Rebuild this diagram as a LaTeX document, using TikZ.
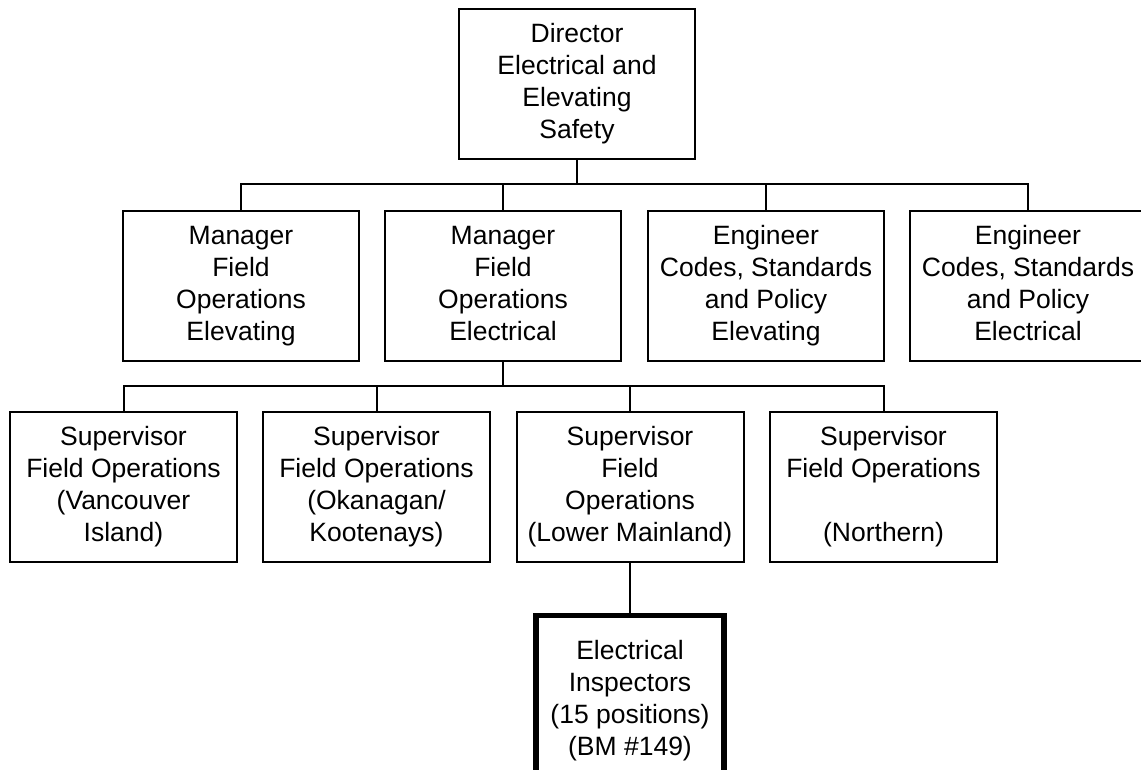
\documentclass[tikz,border=0pt]{standalone}
\usepackage{fontspec}
\setmainfont{Liberation Sans}
\begin{document}
\begin{tikzpicture}[x=1pt, y=-1pt, line width=2pt,
  post/.style={rectangle,draw,align=center,inner sep=0pt,minimum width=236pt,minimum height=150pt,
    execute at begin node=\rule{0pt}{20pt},execute at end node=\rule[-6pt]{0pt}{6pt}},
  sup/.style={post,minimum width=227pt},
  staff/.style={post,minimum width=188pt,minimum height=170pt,line width=5.5pt}]
\useasboundingbox (0,0) rectangle (1141,769);
\clip (0,0) rectangle (1141,769);
\begin{scope}[every node/.style={font=\fontsize{26.5}{32}\selectfont}]
\node[post] (dir) at (577,84) {Director\\Electrical and\\Elevating\\Safety};
\node[post] (m1) at (241,286) {Manager\\Field\\Operations\\Elevating};
\node[post] (m2) at (503,286) {Manager\\Field\\Operations\\Electrical};
\node[post] (e1) at (766,286) {Engineer\\Codes, Standards\\and Policy\\Elevating};
\node[post] (e2) at (1028,286) {Engineer\\Codes, Standards\\and Policy\\Electrical};
\node[sup] (s1) at (123.5,487) {Supervisor\\Field Operations\\(Vancouver\\Island)};
\node[sup] (s2) at (376.5,487) {Supervisor\\Field Operations\\(Okanagan/\\Kootenays)};
\node[sup] (s3) at (630,487) {Supervisor\\Field\\Operations\\(Lower Mainland)};
\node[sup] (s4) at (883.5,487) {Supervisor\\Field Operations\\\mbox{}\\(Northern)};
\node[staff] (ins) at (630,700.5) {Electrical\\Inspectors\\(15 positions)\\(BM \#149)};
\end{scope}
\coordinate (bus1) at (577,184);
\coordinate (bus2) at (503,386);
\draw (dir) -- (bus1);
\draw (bus1) -| (m1.north);
\draw (bus1) -| (m2.north);
\draw (bus1) -| (e1.north);
\draw (bus1) -| (e2.north);
\draw (m2) -- (bus2);
\draw (bus2) -| (s1.north);
\draw (bus2) -| (s2.north);
\draw (bus2) -| (s3.north);
\draw (bus2) -| (s4.north);
\draw (s3) -- (ins);
\end{tikzpicture}
\end{document}
